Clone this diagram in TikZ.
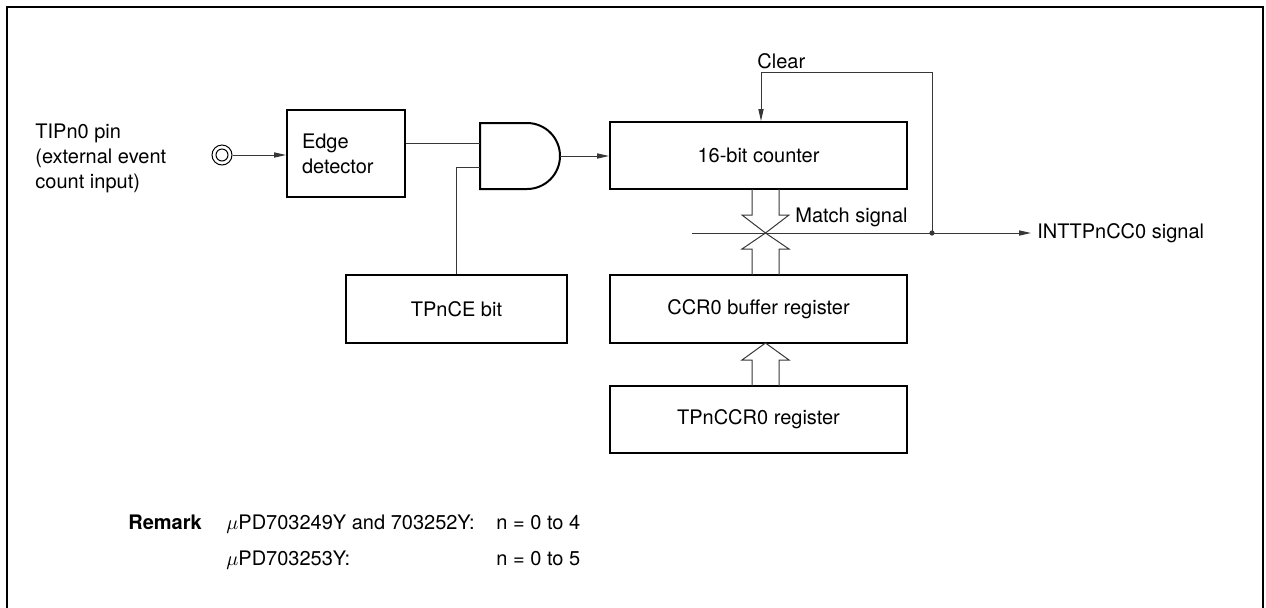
\documentclass[tikz,border=0pt]{standalone}
\usepackage{fontspec}
\setmainfont{TeX Gyre Heros}
\usepackage{tikz}
\usetikzlibrary{positioning,arrows.meta,calc}
\definecolor{wiregray}{RGB}{55,55,55}
\tikzset{
  blk/.style={draw,line width=1pt,inner sep=0pt,align=center},
  wire/.style={draw=wiregray,line width=0.5pt},
  sigtip/.style={-{Triangle[length=6pt,width=2.6pt]}},
  lbl/.style={inner sep=0pt,anchor=base west},
}
% hollow bus arrow: x centre, tail y, head base y, tip y
\newcommand{\busarrow}[4]{\draw[wire] ({#1-13.5},#2) -- ({#1-13.5},#3) -- ({#1-23.5},#3) -- (#1,#4) -- ({#1+23.5},#3) -- ({#1+13.5},#3) -- ({#1+13.5},#2);}

\begin{document}
\begin{tikzpicture}[x=0.5pt,y=-0.5pt,font=\fontsize{10}{12.5}\selectfont]
\useasboundingbox (0,0) rectangle (1266,607);
\draw[line width=1.25pt] (7,650) -- (7,7) -- (1263,7) -- (1263,650);

\node[align=left,anchor=west,inner sep=0pt] (pinlbl) at (35,158) {TIPn0 pin\\(external event\\count input)};
\node[circle,draw,line width=0.5pt,minimum size=10pt,inner sep=0pt] (pin) at (222,155) {};
\draw[line width=0.5pt] (pin.center) circle[radius=3pt];

\node[blk,minimum width=59pt,minimum height=43.5pt,text width=44pt,align=left] (edge) at (346,153.5) {Edge\\detector};
\node[blk,minimum width=148.5pt,minimum height=33.5pt] (cnt) at (758.5,155.5) {16-bit counter};
\node[blk,minimum width=110.5pt,minimum height=34pt] (ce) at (456.5,309) {TPnCE bit};
\node[blk,minimum width=148.5pt,minimum height=34pt] (buf) at (758.5,309) {CCR0 buffer register};
\node[blk,minimum width=148.5pt,minimum height=33.5pt] (ccr) at (758.5,419.5) {TPnCCR0 register};

% AND gate
\draw[line width=1pt] (480,123) -- (527,123) arc[start angle=90,end angle=-90,radius=16.5pt] -- (480,189) -- cycle;
\coordinate (in1) at (480,143);
\coordinate (in2) at (480,167);
\coordinate (andout) at (560,156);

\draw[wire,sigtip] (pin) -- (pin -| edge.west);
\draw[wire] (edge.east |- in1) -- (in1);
\draw[wire] (in2) -| (ce.north);
\draw[wire,sigtip] (andout) -- (andout -| cnt.west);

\busarrow{765.5}{189}{215}{233}
\busarrow{765.5}{275}{249}{233}
\busarrow{765.5}{386}{360}{343}

\coordinate (mstart) at (692,233);
\coordinate (fb) at (932,233);
\node[anchor=west,inner sep=3pt] (intlbl) at (1031,233) {INTTPnCC0 signal};
\node[anchor=west,inner sep=0pt] (match) at (795,217) {Match signal};
\draw[wire,sigtip] (mstart) -- (intlbl.west);
\fill[wiregray] (fb) circle[radius=1.3pt];
\node[anchor=west,inner sep=0pt] (clr) at (757,61) {Clear};
\draw[wire,sigtip] (fb) -- (fb |- 0,72) -| ([xshift=1.25pt]cnt.north);

\node[lbl,font=\bfseries] (rmk) at (128,529) {Remark};
\node[lbl] (dev1) at (226,529) {$\mu$PD703249Y and 703252Y:};
\node[lbl] (rng1) at (496,529) {n = 0 to 4};
\node[lbl] (dev2) at (226,565) {$\mu$PD703253Y:};
\node[lbl] (rng2) at (496,565) {n = 0 to 5};
\end{tikzpicture}
\end{document}
